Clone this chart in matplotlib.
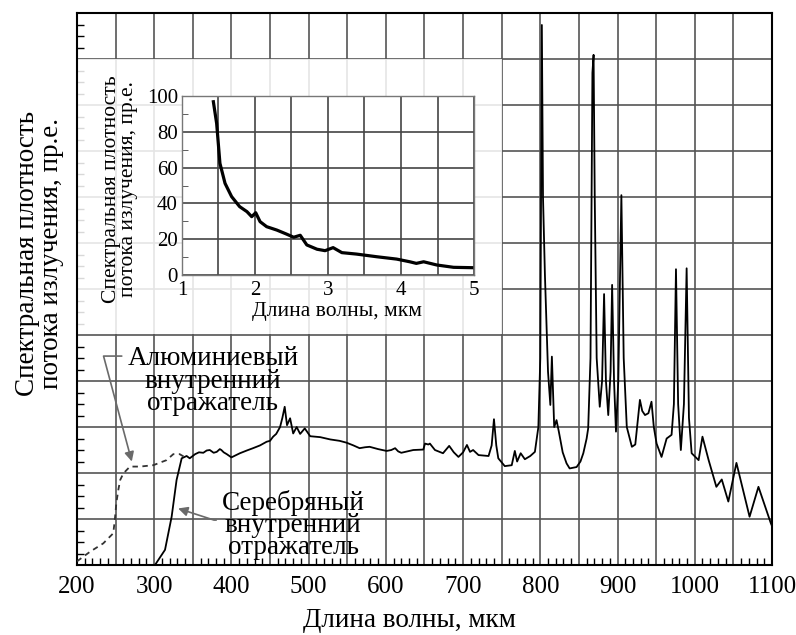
import matplotlib
matplotlib.use("Agg")
import matplotlib.pyplot as plt
from matplotlib.ticker import MultipleLocator, FuncFormatter
from matplotlib.patches import Rectangle

plt.rcParams['font.family'] = ['Liberation Serif', 'DejaVu Serif']

# silver internal reflector (solid curve), wavelength nm / relative units
silver_x = [301, 314, 322.6, 329, 335.6, 342, 346, 353, 358, 363.6, 368, 372, 377, 381, 385,
            387, 390, 394, 400, 405, 411, 420, 428, 437, 445.6, 450, 454, 458, 463, 466,
            469, 472, 476, 480, 484.5, 489, 495, 502, 515, 528, 540, 549, 558, 566, 573,
            579, 590, 601, 607, 612, 616, 620, 628, 635.5, 648.5, 650.7, 655, 657, 663.6, 674,
            682, 688, 694, 700, 705, 709, 713, 720, 726, 733, 737, 740, 743, 745.6, 754,
            763, 767, 770, 774.6, 780, 787, 793, 797.5, 800, 802, 803.5, 806, 810, 813, 815,
            818, 821, 824, 829, 834, 838, 847, 852, 855.7, 860, 862, 865, 867.5, 869, 870.5,
            873, 877, 880, 882.6, 885, 888, 891, 893, 895.5, 898, 901, 905, 908, 912,
            918.6, 923, 926, 929, 932, 935.6, 940, 944, 947, 950.6, 957, 963.6, 970, 973, 975.7,
            978.5, 982, 986, 989.5, 992.5, 996, 1005, 1010, 1018, 1028, 1035, 1043.5, 1054, 1071, 1082.5,
            1098.5, 1100]
silver_y = [0.0, 0.33, 1.05, 1.85, 2.32, 2.37, 2.32, 2.41, 2.45, 2.44, 2.49, 2.5, 2.44, 2.46, 2.52,
            2.5, 2.45, 2.41, 2.34, 2.38, 2.43, 2.49, 2.54, 2.6, 2.68, 2.7, 2.79, 2.85, 3.0, 3.2,
            3.44, 3.04, 3.19, 2.86, 3.0, 2.85, 2.97, 2.8, 2.78, 2.73, 2.7, 2.66, 2.6, 2.54, 2.56,
            2.57, 2.52, 2.48, 2.5, 2.54, 2.47, 2.44, 2.47, 2.5, 2.51, 2.64, 2.62, 2.64, 2.5, 2.43,
            2.59, 2.45, 2.35, 2.45, 2.61, 2.46, 2.5, 2.39, 2.38, 2.37, 2.6, 3.17, 2.6, 2.32, 2.15,
            2.17, 2.48, 2.25, 2.43, 2.3, 2.37, 2.46, 3.0, 4.5, 11.74, 8.0, 6.3, 4.2, 3.48, 4.53,
            3.0, 3.15, 2.9, 2.45, 2.21, 2.1, 2.13, 2.25, 2.43, 2.75, 2.97, 4.5, 10.7, 11.09, 8.0,
            4.5, 3.44, 4.0, 5.89, 4.0, 3.26, 4.2, 6.09, 4.0, 2.9, 4.0, 8.04, 4.5, 3.0,
            2.57, 2.62, 3.1, 3.59, 3.35, 3.26, 3.3, 3.55, 3.0, 2.64, 2.35, 2.75, 2.83, 3.5, 6.43,
            3.5, 2.5, 3.5, 6.45, 3.2, 2.43, 2.28, 2.79, 2.28, 1.70, 1.86, 1.38, 2.22, 1.05, 1.70,
            0.91, 0.85]

# aluminium internal reflector (dashed curve)
alum_x = [200, 217, 234, 247, 249, 251, 253.5, 256, 260, 268.6, 281.6, 298.8, 316, 324.7, 333, 340]
alum_y = [0.08, 0.29, 0.47, 0.69, 0.98, 1.35, 1.63, 1.85, 1.99, 2.14, 2.14, 2.17, 2.28, 2.41, 2.41, 2.34]

# inset: 1-5 um
ins_x = [1.43, 1.475, 1.52, 1.59, 1.68, 1.79, 1.89, 1.955, 2.01, 2.07, 2.16, 2.30, 2.43, 2.53,
         2.62, 2.71, 2.85, 2.96, 3.07, 3.19, 3.39, 3.67, 3.94, 4.12, 4.21, 4.31, 4.49, 4.72, 4.97]
ins_y = [96.8, 84.7, 62.4, 51.2, 43.8, 38.2, 35.4, 32.6, 34.8, 29.8, 27.0, 25.1, 22.9, 21.1,
         22.2, 16.8, 14.4, 13.6, 15.3, 12.5, 11.7, 10.2, 8.9, 7.4, 6.5, 7.4, 5.6, 4.3, 4.1]

ylabel_txt = "Спектральная плотность\nпотока излучения, пр.е."
xlabel_txt = "Длина волны, мкм"

fig = plt.figure(figsize=(7.96, 6.35), dpi=100)
ax = fig.add_axes([0.0967, 0.1102, 0.8731, 0.8693])

ax.plot(silver_x, silver_y, color='black', lw=1.3, zorder=3)
ax.plot(alum_x, alum_y, color='#333333', lw=1.3, ls=(0, (3, 2.5)), zorder=3)

ax.set_xlim(200, 1100)
ax.set_ylim(0, 12)
ax.xaxis.set_major_locator(MultipleLocator(50))
ax.xaxis.set_minor_locator(MultipleLocator(10))
ax.xaxis.set_major_formatter(FuncFormatter(lambda v, p: f"{int(v)}" if v % 100 == 0 else ""))
ax.yaxis.set_major_locator(MultipleLocator(1))
ax.yaxis.set_minor_locator(MultipleLocator(0.25))
ax.yaxis.set_major_formatter(FuncFormatter(lambda v, p: ""))
ax.tick_params(which='major', length=0, labelsize=18, pad=8)
ax.tick_params(which='minor', direction='in', length=5, width=1, color='black')
ax.grid(True, which='major', color='#555555', lw=1.2)
for s in ax.spines.values():
    s.set_linewidth(1.5)

# semi-transparent white box under the inset
ax.add_patch(Rectangle((200, 5.03), 550, 5.97, facecolor='white', alpha=0.85,
                       edgecolor='none', zorder=2))

ax.set_xlabel(xlabel_txt, fontsize=19.5)
ax.xaxis.set_label_coords(0.478, -0.078)
ax.set_ylabel(ylabel_txt, fontsize=19.5, linespacing=0.95)
ax.yaxis.set_label_coords(-0.018, 0.565)

grey = '#6a6a6a'
ax.annotate("Алюминиевый\nвнутренний\nотражатель", xy=(271, 2.25), xytext=(376, 4.0),
            ha='center', va='center', fontsize=19.5, linespacing=0.85, zorder=4,
            arrowprops=dict(arrowstyle='-|>', color=grey, lw=1.2, mutation_scale=14,
                            relpos=(0, 0.86), shrinkA=2, shrinkB=0,
                            connectionstyle="angle,angleA=180,angleB=105,rad=0"))
ax.annotate("Серебряный\nвнутренний\nотражатель", xy=(331, 1.23), xytext=(480, 0.87),
            ha='center', va='center', fontsize=19.5, linespacing=0.85, zorder=4,
            arrowprops=dict(arrowstyle='-|>', color=grey, lw=1.2, mutation_scale=14,
                            relpos=(0, 0.57), shrinkA=2, shrinkB=0,
                            connectionstyle="angle,angleA=180,angleB=162,rad=0"))

# inset
ins = fig.add_axes([0.2286, 0.5669, 0.3669, 0.2819], zorder=5)
ins.set_facecolor('white')
ins.plot(ins_x, ins_y, color='black', lw=2.3)
ins.set_xlim(1, 5)
ins.set_ylim(0, 100)
ins.xaxis.set_major_locator(MultipleLocator(0.5))
ins.xaxis.set_major_formatter(FuncFormatter(lambda v, p: f"{int(v)}" if v % 1 == 0 else ""))
ins.yaxis.set_major_locator(MultipleLocator(20))
ins.yaxis.set_minor_locator(MultipleLocator(10))
ins.tick_params(which='major', length=0, labelsize=15, pad=3)
ins.tick_params(axis='x', which='major', pad=4)
ins.tick_params(which='minor', direction='in', length=4, color='#444444')
ins.grid(True, which='major', color='#444444', lw=1.2)
for s in ins.spines.values():
    s.set_color('#777777')
    s.set_linewidth(1.0)
ins.set_xlabel(xlabel_txt, fontsize=15.5)
ins.xaxis.set_label_coords(0.53, -0.15)
ins.set_ylabel(ylabel_txt, fontsize=15.5, linespacing=0.85)
ins.yaxis.set_label_coords(-0.15, 0.48)

fig.savefig("out.png", dpi=100)
